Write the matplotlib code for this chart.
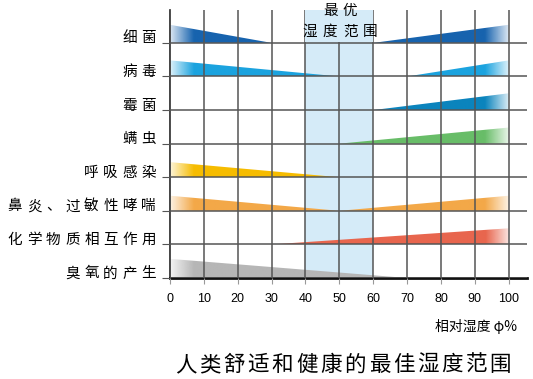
import matplotlib
matplotlib.use("Agg")
import matplotlib.pyplot as plt
import matplotlib.colors as mcolors
import matplotlib.patches as mpatches
import numpy as np

plt.rcParams['font.family'] = ['Noto Sans CJK SC', 'DejaVu Sans']

### data (rows from top to bottom)
labels = ['细菌', '病毒', '霉菌', '螨虫', '呼吸感染', '鼻炎、过敏性哮喘', '化学物质相互作用', '臭氧的产生']
# left wedges: height at 0% humidity, humidity where it reaches zero (None = no wedge)
left_height = [0.54, 0.48, None, None, 0.45, 0.45, None, 0.57]
left_end = [30, 50, None, None, 50, 50, None, 70]
# right wedges: humidity where it starts, height at 100%
right_start = [60, 70, 60, 50, None, 50, 30, None]
right_height = [0.54, 0.48, 0.50, 0.48, None, 0.45, 0.48, None]
colors = ['#1763ae', '#1ba3df', '#0b84bd', '#68bd68', '#f6bc00', '#f3a848', '#e8664e', '#b6b6b6']
xticks = [0, 10, 20, 30, 40, 50, 60, 70, 80, 90, 100]
best_range = (40, 60)

W, H = 533, 379
fig = plt.figure(figsize=(W / 100, H / 100), dpi=100)
ax = fig.add_axes([170 / W, 101 / H, 357 / W, 268 / H])
n = len(labels)
baselines = [n - 1 - i for i in range(n)]

ax.axvspan(best_range[0], best_range[1], color='#d5ebf8', lw=0, zorder=0)


def wedge(x0, x1, h0, h1, y, color, fade_at):
    poly = mpatches.Polygon([(x0, y), (x0, y + h0), (x1, y + h1), (x1, y)], closed=True,
                            facecolor='none', edgecolor='none')
    ax.add_patch(poly)
    xs = np.linspace(x0, x1, 300)
    d = np.abs(xs - fade_at)
    alpha = np.clip(0.15 + 0.85 * d / 7.0, 0, 1)
    img = np.zeros((1, len(xs), 4))
    img[..., :3] = mcolors.to_rgb(color)
    img[..., 3] = alpha
    im = ax.imshow(img, extent=[x0, x1, y, y + max(h0, h1)], aspect='auto',
                   interpolation='bilinear', zorder=1, origin='lower')
    im.set_clip_path(poly)


def spaced(x_px, y_px, s, size, step, ha='left', **kw):
    # place characters one by one (pixel coords from top-left) for wide letter spacing
    em = size * 100 / 72
    total = step * (len(s) - 1) + em
    if ha == 'right':
        x_px = x_px - total
    elif ha == 'center':
        x_px = x_px - total / 2
    for k, ch in enumerate(s):
        fig.text((x_px + em / 2 + k * step) / W, 1 - y_px / H, ch, ha='center', va='center',
                 fontsize=size, **kw)


for i in range(n):
    y = baselines[i]
    if left_height[i] is not None:
        wedge(0, left_end[i], left_height[i], 0, y, colors[i], 0)
    if right_height[i] is not None:
        wedge(right_start[i], 100, 0, right_height[i], y, colors[i], 100)

ax.set_xlim(0, 105.4)
ax.set_ylim(0, 7.98)
ax.set_xticks(xticks)
ax.set_yticks(baselines)
ax.set_yticklabels([])
ax.grid(True, color='#555555', lw=1.1, zorder=2)
ax.set_axisbelow(False)
ax.tick_params(axis='y', length=6, color='#555555')
ax.tick_params(axis='x', length=4, color='#999999', pad=7, labelsize=9)
for lab in ax.get_xticklabels():
    lab.set_family(['Liberation Sans Narrow', 'Liberation Sans'])

for s in ['top', 'right']:
    ax.spines[s].set_visible(False)
ax.spines['left'].set_color('#222222')
ax.spines['left'].set_linewidth(1.2)
ax.spines['bottom'].set_color('#111111')
ax.spines['bottom'].set_linewidth(2)

# row labels, slightly above their baseline
px_per_row = 268 / 7.98
for i in range(n):
    y_px = 278 - baselines[i] * px_per_row - 4.5
    spaced(156, y_px, labels[i], 10.5, 19.1, ha='right')

# title box of the best range covers the grid at the top
ax.add_patch(mpatches.Rectangle((best_range[0], 7.02), best_range[1] - best_range[0], 1.0,
                                facecolor='#d5ebf8', edgecolor='none', zorder=3))
spaced(340, 11, '最优', 10.5, 19.5, ha='center', zorder=4)
spaced(340, 32, '湿度范围', 10.5, 20, ha='center', zorder=4)

fig.text(517 / W, 1 - 327 / H, '相对湿度 φ%', ha='right', va='center', fontsize=10)
spaced(343, 365, '人类舒适和健康的最佳湿度范围', 15.5, 24.2, ha='center')

fig.savefig('out.png', dpi=100)
